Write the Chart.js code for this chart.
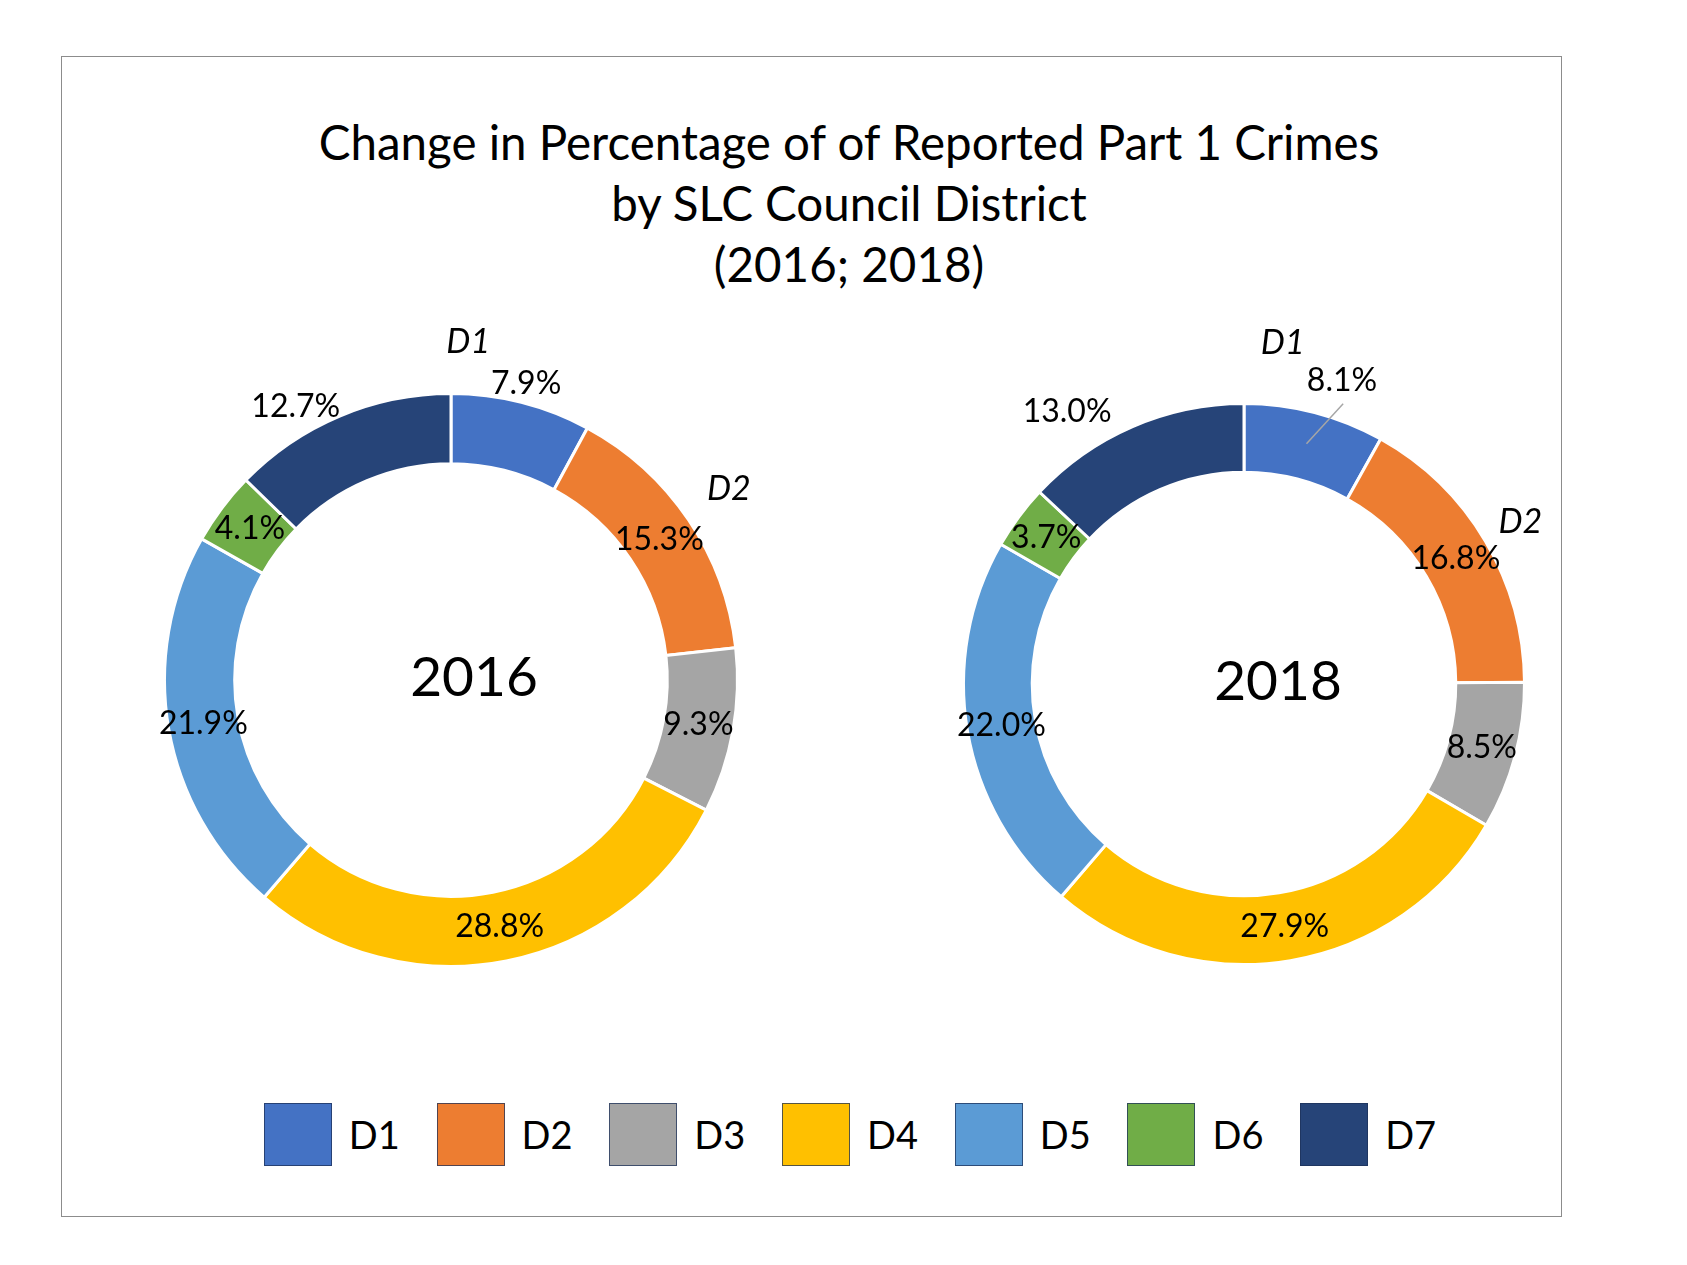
<!DOCTYPE html>
<html>
<head>
<meta charset="utf-8">
<script src="https://cdn.jsdelivr.net/npm/chart.js@4.4.1/dist/chart.umd.min.js"></script>
<style>
  body { margin: 0; background: #fff; font-family: Lato, 'Open Sans', sans-serif; }
  #page { position: relative; width: 1687px; height: 1265px; overflow: hidden; background: #fff; }
  #frame { position: absolute; left: 61px; top: 56px; width: 1499px; height: 1159px; border: 1.5px solid #8c8c8c; }
  #title { position: absolute; left: 0; top: 111px; width: 1698px; text-align: center;
           font-size: 47.5px; line-height: 61px; color: #000; }
  canvas { position: absolute; }
  #chart2016 { left: 51px; top: 280px; }
  #chart2018 { left: 844px; top: 284px; }
  #legend { position: absolute; left: 0; top: 1102px; width: 1700px; height: 64px;
            display: flex; justify-content: center; align-items: center; }
  .item { display: flex; align-items: center; margin: 0 18.4px; }
  .box { width: 66px; height: 61px; border: 1.5px solid rgba(30, 50, 90, 0.75); margin-right: 17px; }
  .txt { font-size: 38px; color: #000; }
</style>
</head>
<body>
<div id="page">
  <div id="frame"></div>
  <div id="title">Change in Percentage of of Reported Part 1 Crimes<br>by SLC Council District<br>(2016; 2018)</div>
  <canvas id="chart2016" width="800" height="800"></canvas>
  <canvas id="chart2018" width="800" height="800"></canvas>
  <div id="legend"></div>
</div>
<script>
// Council districts and share of reported Part 1 crimes (%)
const districts = ['D1', 'D2', 'D3', 'D4', 'D5', 'D6', 'D7'];
const share2016 = [7.9, 15.3, 9.3, 28.8, 21.9, 4.1, 12.7];
const share2018 = [8.1, 16.8, 8.5, 27.9, 22.0, 3.7, 13.0];

const sliceColors = ['#4472C4', '#ED7D31', '#A5A5A5', '#FFC000', '#5B9BD5', '#70AD47', '#264478'];

// draws the percentage labels, the italic district names and the year in the hole
const ringLabels = {
    id: 'ringLabels',
    afterDatasetsDraw(chart, args, opts) {
        const ctx = chart.ctx;
        const meta = chart.getDatasetMeta(0);
        const values = chart.data.datasets[0].data;
        const rad = Math.PI / 180;

        const pointAt = (arc, r, da) => {
            const p = arc.getProps(['x', 'y', 'startAngle', 'endAngle', 'innerRadius', 'outerRadius'], true);
            const a = (p.startAngle + p.endAngle) / 2 + (da || 0) * rad;
            const radius = r ? r * p.outerRadius : (p.innerRadius + p.outerRadius) / 2;
            return { x: p.x + Math.cos(a) * radius, y: p.y + Math.sin(a) * radius };
        };

        ctx.save();
        ctx.textAlign = 'center';
        ctx.textBaseline = 'middle';
        ctx.fillStyle = '#000';

        meta.data.forEach((arc, i) => {
            const place = opts.placement[i] || {};
            if (place.leader) {
                const a = pointAt(arc, place.leader.r1, place.leader.da1);
                const b = pointAt(arc, place.leader.r2, 0);
                ctx.strokeStyle = '#a6a6a6';
                ctx.lineWidth = 1.5;
                ctx.beginPath();
                ctx.moveTo(a.x, a.y);
                ctx.lineTo(b.x, b.y);
                ctx.stroke();
            }
            const pos = pointAt(arc, place.r, place.da);
            ctx.font = '32px Lato, sans-serif';
            ctx.fillText(values[i].toFixed(1) + '%', pos.x, pos.y);
        });

        opts.names.forEach(n => {
            const pos = pointAt(meta.data[n.i], n.r, n.da);
            ctx.font = 'italic 34px Lato, sans-serif';
            ctx.fillText(chart.data.labels[n.i], pos.x, pos.y);
        });

        const c = meta.data[0];
        ctx.font = '55px Lato, sans-serif';
        ctx.fillText(opts.center, c.x + opts.centerShift, c.y - 2);
        ctx.restore();
    }
};

function makeDonut(id, values, padding, labelOpts) {
    return new Chart(document.getElementById(id), {
        type: 'doughnut',
        data: {
            labels: districts,
            datasets: [{
                data: values,
                backgroundColor: sliceColors,
                borderColor: '#ffffff',
                borderWidth: 3
            }]
        },
        options: {
            responsive: false,
            animation: false,
            cutout: '75.5%',
            layout: { padding: padding },
            plugins: {
                legend: { display: false },
                tooltip: { enabled: false },
                ringLabels: labelOpts
            }
        },
        plugins: [ringLabels]
    });
}

const chart2016 = makeDonut('chart2016', share2016, 112, {
    center: '2016',
    centerShift: 23,
    placement: [{ r: 1.068, da: 0 }, {}, {}, {}, {}, {}, { r: 1.098, da: -6.7 }],
    names: [{ i: 0, r: 1.18, da: -11.3 }, { i: 1, r: 1.177, da: -0.5 }]
});

const chart2018 = makeDonut('chart2018', share2018, 118, {
    center: '2018',
    centerShift: 34,
    placement: [{ r: 1.138, da: 3.3, leader: { r1: 1.06, da1: 4.9, r2: 0.885 } }, {}, {}, {}, {}, {}, { r: 1.158, da: -9.6 }],
    names: [{ i: 0, r: 1.223, da: -8.1 }, { i: 1, r: 1.142, da: 0.2 }]
});

// legend shared by both donuts
const legendEl = document.getElementById('legend');
districts.forEach((name, i) => {
    const item = document.createElement('div');
    item.className = 'item';
    item.innerHTML = `<div class="box" style="background:${sliceColors[i]}"></div><span class="txt">${name}</span>`;
    legendEl.appendChild(item);
});
</script>
</body>
</html>
